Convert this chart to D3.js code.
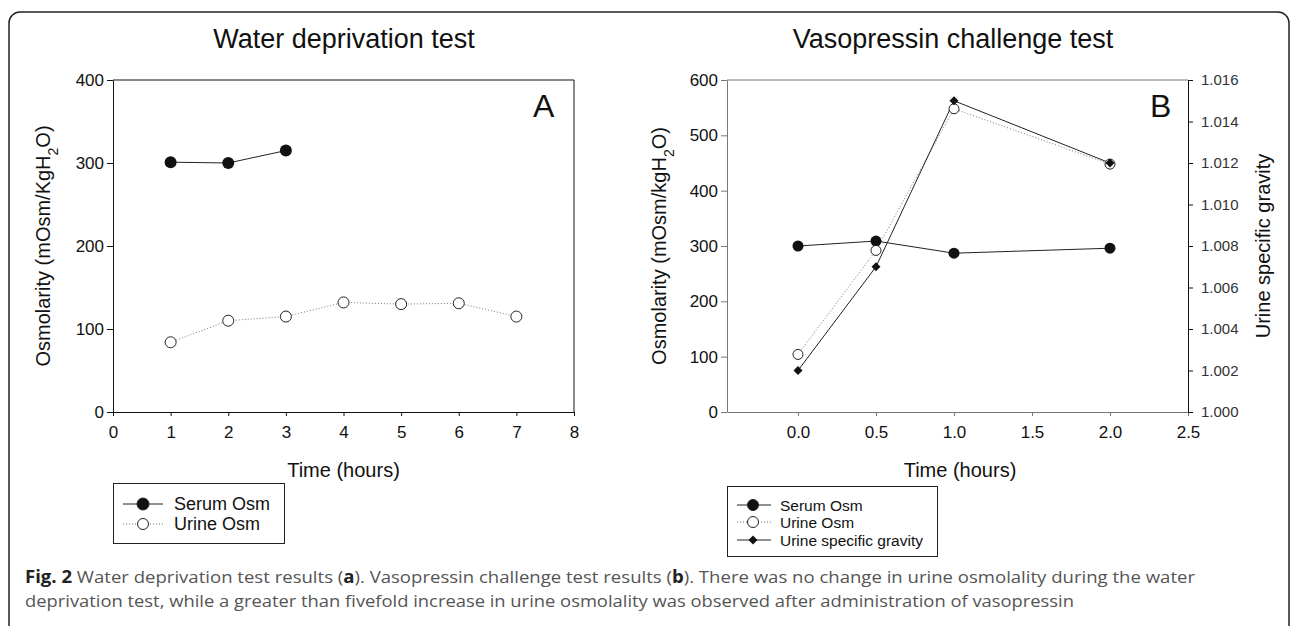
<!DOCTYPE html>
<html>
<head>
<meta charset="utf-8">
<script src="https://cdn.jsdelivr.net/npm/d3@7"></script>
<style>
  body { margin: 0; background: #fff; }
  svg  { display: block; font-family: "Liberation Sans", Arial, sans-serif; }
</style>
</head>
<body>
<svg id="chart" width="1292" height="626"></svg>
<script>
// panel A : water deprivation test
const hoursSerumA = [1, 2, 3]
const serumA      = [301, 300, 315]
const hoursUrineA = [1, 2, 3, 4, 5, 6, 7]
const urineA      = [84, 110, 115, 132, 130, 131, 115]
const xTicksA     = [0, 1, 2, 3, 4, 5, 6, 7, 8]
const yTicksA     = [0, 100, 200, 300, 400]

// panel B : vasopressin challenge test
const hoursB      = [0, 0.5, 1, 2]
const serumB      = [300, 309, 287, 296]
const urineB      = [104, 292, 548, 448]
const gravityB    = [1.002, 1.007, 1.015, 1.012]
const xTicksB     = [0, 0.5, 1, 1.5, 2, 2.5]
const yTicksB     = [0, 100, 200, 300, 400, 500, 600]
const gTicksB     = [1.000, 1.002, 1.004, 1.006, 1.008, 1.010, 1.012, 1.014, 1.016]

const svg = d3.select('#chart')

// outer frame
svg.append('rect')
  .attr('x', 9).attr('y', 12)
  .attr('width', 1280).attr('height', 700)
  .attr('rx', 11)
  .attr('fill', 'none')
  .attr('stroke', '#222')
  .attr('stroke-width', 1.5)

const
  plotTop    = 80,
  plotBottom = 412

function diamond(r)
{
  return `M0,${-r}L${r},0L0,${r}L${-r},0Z`
}

function styleAxis(g, color, size)
{
  g.select('.domain').attr('stroke', color)
  g.selectAll('.tick line').attr('stroke', color)
  g.selectAll('.tick text')
    .attr('fill', '#111')
    .style('font-size', size + 'px')
    .style('font-family', '"Liberation Sans", Arial, sans-serif')
}

function yLabel(x, y, text, sub, rest)
{
  const t = svg.append('text')
    .attr('transform', `translate(${x},${y}) rotate(-90)`)
    .attr('text-anchor', 'middle')
    .style('font-size', '20px')
    .attr('fill', '#111')
  t.append('tspan').text(text)
  if(sub)
  {
    t.append('tspan').attr('baseline-shift', 'sub').style('font-size', '14px').text(sub)
    t.append('tspan').text(rest)
  }
}

// ---------- panel A ----------
{
  const
    left  = 113,
    right = 574,
    x     = d3.scaleLinear().domain([0, 8]).range([left, right]),
    y     = d3.scaleLinear().domain([0, 400]).range([plotBottom, plotTop])

  svg.append('text')
    .attr('x', 344).attr('y', 48)
    .attr('text-anchor', 'middle')
    .style('font-size', '27px')
    .attr('fill', '#111')
    .text('Water deprivation test')

  const gx = svg.append('g')
    .attr('transform', `translate(0,${plotBottom})`)
    .call(d3.axisBottom(x).tickValues(xTicksA).tickSizeInner(4).tickSizeOuter(0).tickPadding(10).tickFormat(d3.format('d')))
  styleAxis(gx, '#111', 17)

  const gy = svg.append('g')
    .attr('transform', `translate(${left},0)`)
    .call(d3.axisLeft(y).tickValues(yTicksA).tickSizeInner(6).tickSizeOuter(0).tickPadding(3))
  styleAxis(gy, '#111', 17)

  svg.append('path')
    .attr('d', `M${left},${plotTop}H${right}V${plotBottom}`)
    .attr('fill', 'none')
    .attr('stroke', '#111')

  svg.append('text')
    .attr('x', 533).attr('y', 117)
    .style('font-size', '32px')
    .attr('fill', '#111')
    .text('A')

  const line = d3.line().x(d => x(d[0])).y(d => y(d[1]))

  const serum = hoursSerumA.map((h, i) => [h, serumA[i]])
  const urine = hoursUrineA.map((h, i) => [h, urineA[i]])

  svg.append('path')
    .attr('d', line(serum))
    .attr('fill', 'none')
    .attr('stroke', '#222')

  svg.append('path')
    .attr('d', line(urine))
    .attr('fill', 'none')
    .attr('stroke', '#777')
    .attr('stroke-dasharray', '1,2')

  svg.selectAll('.serumA').data(serum).enter().append('circle')
    .attr('cx', d => x(d[0])).attr('cy', d => y(d[1]))
    .attr('r', 6)
    .attr('fill', '#111')

  svg.selectAll('.urineA').data(urine).enter().append('circle')
    .attr('cx', d => x(d[0])).attr('cy', d => y(d[1]))
    .attr('r', 5.5)
    .attr('fill', '#fff')
    .attr('stroke', '#222')

  svg.append('text')
    .attr('x', (left + right) / 2).attr('y', 477)
    .attr('text-anchor', 'middle')
    .style('font-size', '20px')
    .attr('fill', '#111')
    .text('Time (hours)')

  yLabel(50, (plotTop + plotBottom) / 2, 'Osmolarity (mOsm/KgH', '2', 'O)')

  // legend
  svg.append('rect')
    .attr('x', 113.5).attr('y', 483.5)
    .attr('width', 171).attr('height', 60)
    .attr('fill', '#fff')
    .attr('stroke', '#222')

  const rows = [
    { label: 'Serum Osm', cy: 504, dotted: false, fill: '#111' },
    { label: 'Urine Osm', cy: 524, dotted: true,  fill: '#fff' }
  ]
  rows.forEach(r =>
  {
    svg.append('line')
      .attr('x1', 123).attr('x2', 163)
      .attr('y1', r.cy).attr('y2', r.cy)
      .attr('stroke', r.dotted ? '#777' : '#222')
      .attr('stroke-dasharray', r.dotted ? '1,2' : null)
    svg.append('circle')
      .attr('cx', 143).attr('cy', r.cy)
      .attr('r', r.dotted ? 5.5 : 6)
      .attr('fill', r.fill)
      .attr('stroke', '#222')
    svg.append('text')
      .attr('x', 174).attr('y', r.cy + 6)
      .style('font-size', '18px')
      .attr('fill', '#111')
      .text(r.label)
  })
}

// ---------- panel B ----------
{
  const
    left  = 727,
    right = 1188,
    x     = d3.scaleLinear().domain([-0.455, 2.5]).range([left, right]),
    y     = d3.scaleLinear().domain([0, 600]).range([plotBottom, plotTop]),
    yg    = d3.scaleLinear().domain([1.000, 1.016]).range([plotBottom, plotTop])

  svg.append('text')
    .attr('x', 953).attr('y', 48)
    .attr('text-anchor', 'middle')
    .style('font-size', '27px')
    .attr('fill', '#111')
    .text('Vasopressin challenge test')

  svg.append('line')
    .attr('x1', left).attr('x2', right)
    .attr('y1', plotTop).attr('y2', plotTop)
    .attr('stroke', '#777')

  const gx = svg.append('g')
    .attr('transform', `translate(0,${plotBottom})`)
    .call(d3.axisBottom(x).tickValues(xTicksB).tickSizeInner(4).tickSizeOuter(0).tickPadding(10).tickFormat(d3.format('.1f')))
  styleAxis(gx, '#777', 17)

  const gy = svg.append('g')
    .attr('transform', `translate(${left},0)`)
    .call(d3.axisLeft(y).tickValues(yTicksB).tickSizeInner(6).tickSizeOuter(0).tickPadding(3))
  styleAxis(gy, '#777', 17)

  const gr = svg.append('g')
    .attr('transform', `translate(${right},0)`)
    .call(d3.axisRight(yg).tickValues(gTicksB).tickSizeInner(5).tickSizeOuter(0).tickPadding(8).tickFormat(d3.format('.3f')))
  styleAxis(gr, '#111', 15)
  gr.selectAll('.tick text').attr('fill', '#333')

  svg.append('text')
    .attr('x', 1150).attr('y', 117)
    .style('font-size', '32px')
    .attr('fill', '#111')
    .text('B')

  const
    line    = d3.line().x(d => x(d[0])).y(d => y(d[1])),
    lineG   = d3.line().x(d => x(d[0])).y(d => yg(d[1])),
    serum   = hoursB.map((h, i) => [h, serumB[i]]),
    urine   = hoursB.map((h, i) => [h, urineB[i]]),
    gravity = hoursB.map((h, i) => [h, gravityB[i]])

  svg.append('path').attr('d', line(serum)).attr('fill', 'none').attr('stroke', '#222')
  svg.append('path').attr('d', line(urine)).attr('fill', 'none').attr('stroke', '#777').attr('stroke-dasharray', '1,2')
  svg.append('path').attr('d', lineG(gravity)).attr('fill', 'none').attr('stroke', '#222')

  svg.selectAll('.serumB').data(serum).enter().append('circle')
    .attr('cx', d => x(d[0])).attr('cy', d => y(d[1]))
    .attr('r', 5.5)
    .attr('fill', '#111')

  svg.selectAll('.urineB').data(urine).enter().append('circle')
    .attr('cx', d => x(d[0])).attr('cy', d => y(d[1]))
    .attr('r', 5)
    .attr('fill', '#fff')
    .attr('stroke', '#222')

  svg.selectAll('.gravityB').data(gravity).enter().append('path')
    .attr('transform', d => `translate(${x(d[0])},${yg(d[1])})`)
    .attr('d', diamond(4.5))
    .attr('fill', '#111')

  svg.append('text')
    .attr('x', 960).attr('y', 477)
    .attr('text-anchor', 'middle')
    .style('font-size', '20px')
    .attr('fill', '#111')
    .text('Time (hours)')

  yLabel(666, (plotTop + plotBottom) / 2, 'Osmolarity (mOsm/kgH', '2', 'O)')
  yLabel(1270, (plotTop + plotBottom) / 2, 'Urine specific gravity')

  // legend
  svg.append('rect')
    .attr('x', 727.5).attr('y', 486.5)
    .attr('width', 210).attr('height', 70)
    .attr('fill', '#fff')
    .attr('stroke', '#222')

  const rows = [
    { label: 'Serum Osm',              cy: 505, kind: 'serum' },
    { label: 'Urine Osm',              cy: 522, kind: 'urine' },
    { label: 'Urine specific gravity', cy: 540, kind: 'gravity' }
  ]
  rows.forEach(r =>
  {
    svg.append('line')
      .attr('x1', 737).attr('x2', 771)
      .attr('y1', r.cy).attr('y2', r.cy)
      .attr('stroke', r.kind === 'urine' ? '#777' : '#222')
      .attr('stroke-dasharray', r.kind === 'urine' ? '1,2' : null)
    if(r.kind === 'gravity')
    {
      svg.append('path')
        .attr('transform', `translate(753,${r.cy})`)
        .attr('d', diamond(4.5))
        .attr('fill', '#111')
    }
    else
    {
      svg.append('circle')
        .attr('cx', 753).attr('cy', r.cy)
        .attr('r', 5.5)
        .attr('fill', r.kind === 'serum' ? '#111' : '#fff')
        .attr('stroke', '#222')
    }
    svg.append('text')
      .attr('x', 780).attr('y', r.cy + 5.5)
      .style('font-size', '15.5px')
      .attr('fill', '#111')
      .text(r.label)
  })
}

// ---------- caption ----------
const cap1 = svg.append('text')
  .attr('x', 25).attr('y', 583)
  .attr('textLength', 1170)
  .attr('lengthAdjust', 'spacingAndGlyphs')
  .style('font-family', '"Open Sans", "Noto Sans", sans-serif')
  .style('font-size', '17px')
  .attr('fill', '#555')
cap1.append('tspan').attr('font-weight', 'bold').attr('fill', '#222').text('Fig. 2')
cap1.append('tspan').text(' Water deprivation test results (')
cap1.append('tspan').attr('font-weight', 'bold').attr('fill', '#222').text('a')
cap1.append('tspan').text('). Vasopressin challenge test results (')
cap1.append('tspan').attr('font-weight', 'bold').attr('fill', '#222').text('b')
cap1.append('tspan').text('). There was no change in urine osmolality during the water')

svg.append('text')
  .attr('x', 25).attr('y', 607)
  .attr('textLength', 1049)
  .attr('lengthAdjust', 'spacingAndGlyphs')
  .style('font-family', '"Open Sans", "Noto Sans", sans-serif')
  .style('font-size', '17px')
  .attr('fill', '#555')
  .text('deprivation test, while a greater than fivefold increase in urine osmolality was observed after administration of vasopressin')
</script>
</body>
</html>
